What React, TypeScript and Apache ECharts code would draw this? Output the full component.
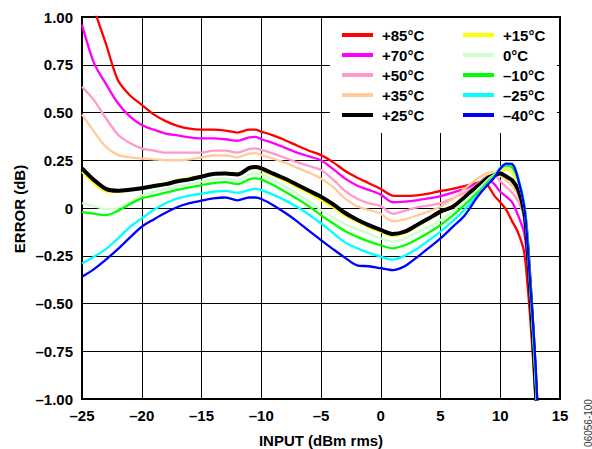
import React, { useEffect, useRef } from "react";
import * as echarts from "echarts";

const FONT = '"Liberation Sans", Arial, Helvetica, sans-serif';

// Input power, dBm rms
const INPUT = [
  -25, -24, -23, -22, -21, -20, -19, -18, -17, -16, -15, -14, -13, -12, -11,
  -10.5,
  -10, -9, -8, -7, -6, -5, -4, -3, -2, -1, 0, 1, 2, 3, 4, 5, 6, 7, 8,
  8.5, 9, 9.5, 10, 10.5, 11, 11.5, 12, 12.25, 12.5, 12.75, 13, 13.25,
];

// Error (dB) per temperature
const E_P85 = [
  1.35, 1.05, 0.86, 0.67, 0.59, 0.54, 0.49, 0.455, 0.43, 0.415, 0.41, 0.41, 0.405, 0.395, 0.41,
  0.41,
  0.40, 0.38, 0.355, 0.327, 0.30, 0.277, 0.24, 0.195, 0.16, 0.13, 0.10, 0.065, 0.063, 0.066, 0.075, 0.089, 0.10, 0.115, 0.13,
  0.14, 0.115, 0.065, 0.03, -0.01, -0.07, -0.13, -0.23, -0.38, -0.57, -0.8, -1.08, -1.4,
];
const E_P70 = [
  0.96, 0.76, 0.65, 0.55, 0.48, 0.435, 0.41, 0.39, 0.38, 0.37, 0.365, 0.365, 0.36, 0.352, 0.37,
  0.372,
  0.36, 0.34, 0.315, 0.29, 0.27, 0.25, 0.205, 0.155, 0.118, 0.095, 0.07, 0.03, 0.033, 0.04, 0.05, 0.062, 0.08, 0.10, 0.125,
  0.14, 0.147, 0.125, 0.085, 0.06, 0.03, -0.04, -0.13, -0.27, -0.46, -0.7, -0.98, -1.3,
];
const E_P50 = [
  0.635, 0.565, 0.47, 0.385, 0.34, 0.312, 0.30, 0.29, 0.29, 0.29, 0.29, 0.30, 0.30, 0.29, 0.31,
  0.312,
  0.304, 0.285, 0.262, 0.24, 0.22, 0.199, 0.15, 0.09, 0.05, 0.025, 0.01, -0.03, -0.015, 0.003, 0.013, 0.025, 0.05, 0.08, 0.12,
  0.15, 0.17, 0.175, 0.14, 0.11, 0.08, 0.035, -0.05, -0.2, -0.44, -0.69, -0.97, -1.3,
];
const E_P35 = [
  0.49, 0.40, 0.32, 0.278, 0.265, 0.26, 0.255, 0.25, 0.25, 0.255, 0.265, 0.275, 0.275, 0.265, 0.285,
  0.287,
  0.277, 0.258, 0.237, 0.21, 0.185, 0.155, 0.11, 0.05, 0.01, -0.01, -0.03, -0.07, -0.06, -0.04, -0.018, 0.007, 0.045, 0.10, 0.15,
  0.17, 0.185, 0.19, 0.17, 0.145, 0.115, 0.065, -0.03, -0.19, -0.43, -0.68, -0.96, -1.3,
];
const E_P25 = [
  0.208, 0.147, 0.10, 0.09, 0.095, 0.103, 0.115, 0.125, 0.14, 0.15, 0.164, 0.178, 0.18, 0.175, 0.21,
  0.215,
  0.208, 0.18, 0.153, 0.122, 0.09, 0.059, 0.02, -0.025, -0.06, -0.09, -0.115, -0.136, -0.124, -0.09, -0.055, -0.019, 0.005, 0.055, 0.11,
  0.135, 0.16, 0.172, 0.18, 0.165, 0.145, 0.095, -0.02, -0.18, -0.42, -0.68, -0.97, -1.3,
];
const E_P15 = [
  0.19, 0.13, 0.088, 0.085, 0.095, 0.105, 0.118, 0.13, 0.145, 0.156, 0.168, 0.18, 0.185, 0.18, 0.205,
  0.21,
  0.199, 0.172, 0.143, 0.11, 0.077, 0.042, 0.005, -0.038, -0.07, -0.1, -0.125, -0.145, -0.132, -0.097, -0.06, -0.025, 0.01, 0.06, 0.115,
  0.14, 0.165, 0.18, 0.198, 0.2, 0.185, 0.125, 0.0, -0.17, -0.41, -0.67, -0.96, -1.3,
];
const E_0 = [
  0.025, 0.01, -0.005, 0.0, 0.03, 0.065, 0.085, 0.10, 0.115, 0.125, 0.14, 0.15, 0.155, 0.145, 0.175,
  0.18,
  0.176, 0.145, 0.112, 0.075, 0.035, -0.01, -0.05, -0.085, -0.11, -0.135, -0.159, -0.176, -0.16, -0.13, -0.1, -0.063, -0.02, 0.035, 0.09,
  0.12, 0.15, 0.175, 0.203, 0.213, 0.2, 0.14, 0.01, -0.16, -0.41, -0.66, -0.95, -1.3,
];
const E_M10 = [
  -0.02, -0.03, -0.037, -0.015, 0.02, 0.05, 0.065, 0.08, 0.095, 0.108, 0.12, 0.13, 0.135, 0.125, 0.15,
  0.155,
  0.15, 0.12, 0.085, 0.048, 0.008, -0.037, -0.08, -0.12, -0.15, -0.175, -0.195, -0.211, -0.195, -0.165, -0.13, -0.089, -0.04, 0.015, 0.075,
  0.105, 0.14, 0.17, 0.207, 0.222, 0.212, 0.15, 0.02, -0.15, -0.4, -0.65, -0.94, -1.3,
];
const E_M25 = [
  -0.29, -0.255, -0.215, -0.16, -0.10, -0.054, -0.01, 0.025, 0.05, 0.065, 0.075, 0.085, 0.09, 0.08, 0.095,
  0.1,
  0.094, 0.07, 0.04, 0.005, -0.035, -0.08, -0.13, -0.18, -0.21, -0.235, -0.255, -0.27, -0.25, -0.215, -0.17, -0.124, -0.07, -0.01, 0.06,
  0.095, 0.13, 0.165, 0.21, 0.23, 0.228, 0.16, 0.02, -0.14, -0.39, -0.64, -0.93, -1.3,
];
const E_M40 = [
  -0.36, -0.32, -0.27, -0.215, -0.155, -0.098, -0.06, -0.025, 0.005, 0.025, 0.038, 0.05, 0.055, 0.04, 0.055,
  0.055,
  0.047, 0.015, -0.025, -0.07, -0.12, -0.168, -0.215, -0.26, -0.3, -0.305, -0.315, -0.325, -0.305, -0.26, -0.21, -0.159, -0.1, -0.04, 0.05,
  0.09, 0.125, 0.16, 0.205, 0.232, 0.23, 0.15, 0.01, -0.16, -0.39, -0.61, -0.88, -1.25,
];

const LEGEND_NAMES = ["+85°C", "+70°C", "+50°C", "+35°C", "+25°C", "+15°C", "0°C", "–10°C", "–25°C", "–40°C"];
const LEGEND_VALUES = [E_P85, E_P70, E_P50, E_P35, E_P25, E_P15, E_0, E_M10, E_M25, E_M40];
const COLORS = ["#ff0000", "#ff00ff", "#ff99cc", "#ffcc99", "#000000", "#ffff00", "#ccffcc", "#00ff00", "#00ffff", "#0000ff"];
const WIDTHS = [2.3, 2.3, 2.3, 2.3, 4, 2.5, 2.3, 2.3, 2.3, 2.3];
// drawing order (last drawn on top)
const DRAW_ORDER = [0, 1, 2, 3, 5, 4, 6, 7, 8, 9];

const X_TICKS_MIN = -25;
const X_TICKS_MAX = 15;
const Y_TICKS_MIN = -1;
const Y_TICKS_MAX = 1;

const dash = (s: string) => s.replace("-", "–");

export default function App() {
  const ref = useRef<HTMLDivElement>(null);
  useEffect(() => {
    if (!ref.current) return;
    const chart = echarts.init(ref.current, undefined, { renderer: "svg" });

    const labelStyle = {
      color: "#000",
      fontFamily: FONT,
      fontWeight: "bold" as const,
      fontSize: 15,
    };

    const series = DRAW_ORDER.map((i) => ({
      type: "line" as const,
      name: LEGEND_NAMES[i],
      data: INPUT.map((x, k) => [x, LEGEND_VALUES[i][k]]),
      showSymbol: false,
      symbol: "none",
      smooth: 0.3,
      clip: true,
      lineStyle: { color: COLORS[i], width: WIDTHS[i] },
      itemStyle: { color: COLORS[i] },
      z: 2 + DRAW_ORDER.indexOf(i) * 0.01,
    }));

    const legendGraphics: any[] = [
      {
        type: "rect",
        shape: { x: 330, y: 18, width: 227, height: 115 },
        style: { fill: "#fff" },
        z: 50,
      },
    ];
    LEGEND_NAMES.forEach((name, i) => {
      const col = i < 5 ? 0 : 1;
      const row = i % 5;
      const x0 = col === 0 ? 342 : 463;
      const y = 35 + row * 20;
      legendGraphics.push({
        type: "line",
        shape: { x1: x0, y1: y, x2: x0 + 31, y2: y },
        style: { stroke: COLORS[i], lineWidth: 4 },
        z: 51,
      });
      legendGraphics.push({
        type: "text",
        x: x0 + 40,
        y: y,
        style: {
          text: name,
          fill: "#000",
          fontFamily: FONT,
          fontWeight: "bold",
          fontSize: 15,
          align: "left",
          verticalAlign: "middle",
        },
        z: 51,
      });
    });

    const option = {
      animation: false,
      backgroundColor: "#fff",
      grid: {
        left: 82,
        right: 32,
        top: 17,
        bottom: 50,
        show: true,
        borderColor: "#000",
        borderWidth: 2,
        backgroundColor: "transparent",
      },
      xAxis: {
        type: "value",
        min: X_TICKS_MIN,
        max: X_TICKS_MAX,
        interval: 5,
        axisLine: { show: true, onZero: false, lineStyle: { color: "#000", width: 2 } },
        axisTick: { show: false },
        splitLine: { show: true, lineStyle: { color: "#000", width: 1 } },
        axisLabel: {
          ...labelStyle,
          margin: 9,
          formatter: (v: number) => dash(String(v)),
        },
      },
      yAxis: {
        type: "value",
        min: Y_TICKS_MIN,
        max: Y_TICKS_MAX,
        interval: 0.25,
        axisLine: { show: true, onZero: false, lineStyle: { color: "#000", width: 2 } },
        axisTick: { show: false },
        splitLine: { show: true, lineStyle: { color: "#000", width: 1 } },
        axisLabel: {
          ...labelStyle,
          margin: 9,
          formatter: (v: number) => (Math.abs(v) < 1e-9 ? "0" : dash(v.toFixed(2))),
        },
      },
      series,
      graphic: [
        ...legendGraphics,
        {
          type: "text",
          x: 19,
          y: 209,
          rotation: Math.PI / 2,
          style: {
            text: "ERROR (dB)",
            fill: "#000",
            fontFamily: FONT,
            fontWeight: "bold",
            fontSize: 15,
            align: "center",
            verticalAlign: "middle",
          },
          z: 51,
        },
        {
          type: "text",
          x: 321,
          y: 440,
          style: {
            text: "INPUT (dBm rms)",
            fill: "#000",
            fontFamily: FONT,
            fontWeight: "bold",
            fontSize: 15,
            align: "center",
            verticalAlign: "middle",
          },
          z: 51,
        },
        {
          type: "text",
          x: 588,
          y: 423,
          rotation: Math.PI / 2,
          style: {
            text: "06056-100",
            fill: "#333",
            fontFamily: FONT,
            fontSize: 10,
            align: "center",
            verticalAlign: "middle",
          },
          z: 51,
        },
      ],
    };
    chart.setOption(option as any);
    return () => chart.dispose();
  }, []);
  return (
    <div
      ref={ref}
      style={{ position: "fixed", left: 0, top: 0, width: 592, height: 449, background: "#fff" }}
    />
  );
}
